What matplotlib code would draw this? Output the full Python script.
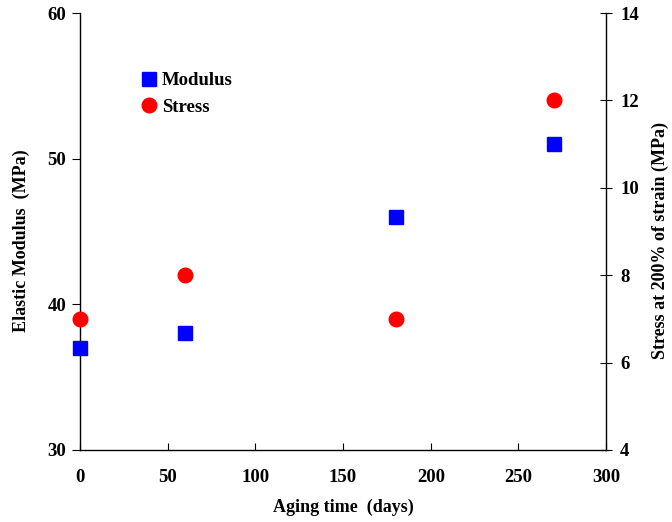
import matplotlib
matplotlib.use("Agg")
import matplotlib.pyplot as plt
from matplotlib.lines import Line2D

plt.rcParams['font.family'] = ['Liberation Serif', 'DejaVu Serif']
plt.rcParams['font.weight'] = 'bold'

# Data
days_modulus = [0, 60, 180, 270]
modulus = [37, 38, 46, 51]
days_stress = [0, 60, 180, 270]
stress = [7, 8, 7, 12]

fig = plt.figure(figsize=(6.72, 5.22), dpi=100)
ax = fig.add_axes([0.119, 0.138, 0.783, 0.837])
ax2 = ax.twinx()

ax.plot(days_modulus, modulus, 's', color='#0000FF', markersize=10, zorder=3, clip_on=False)
ax2.plot(days_stress, stress, 'o', color='#FF0000', markersize=10.5, zorder=3, clip_on=False)

ax.set_xlim(0, 300)
ax.set_ylim(30, 60)
ax2.set_ylim(4, 14)
ax.set_xticks(range(0, 301, 50))
ax.set_yticks([30, 40, 50, 60])
ax2.set_yticks([4, 6, 8, 10, 12, 14])

for a in (ax, ax2):
    a.spines['top'].set_visible(False)
    for s in a.spines.values():
        s.set_linewidth(1.0)
ax.spines['right'].set_visible(False)
ax2.spines['left'].set_visible(False)
ax2.spines['bottom'].set_visible(False)

ax.tick_params(axis='x', direction='in', length=5, labelsize=13.5, pad=14)
ax.tick_params(axis='y', direction='out', length=6, labelsize=13.5, pad=4)
ax2.tick_params(axis='y', direction='inout', length=8, labelsize=13.5, pad=6)

ax.set_xlabel('Aging time  (days)', fontsize=13, fontweight='bold', labelpad=9)
ax.set_ylabel('Elastic Modulus  (MPa)', fontsize=13, fontweight='bold', labelpad=13)
ax.yaxis.set_label_coords(-0.095, 0.48)
ax2.set_ylabel('Stress at 200% of strain (MPa)', fontsize=13, fontweight='bold', labelpad=9)
ax2.yaxis.set_label_coords(1.087, 0.48)

handles = [Line2D([], [], marker='s', linestyle='none', color='#0000FF', markersize=10),
           Line2D([], [], marker='o', linestyle='none', color='#FF0000', markersize=10.5)]
ax.legend(handles, ['Modulus', 'Stress'], loc='upper left', bbox_to_anchor=(0.185, 0.894),
          bbox_transform=fig.transFigure, frameon=False, handlelength=0.8,
          handletextpad=0.3, labelspacing=0.5, prop={'weight': 'bold', 'size': 13.5})

fig.savefig('out.png', dpi=100)
